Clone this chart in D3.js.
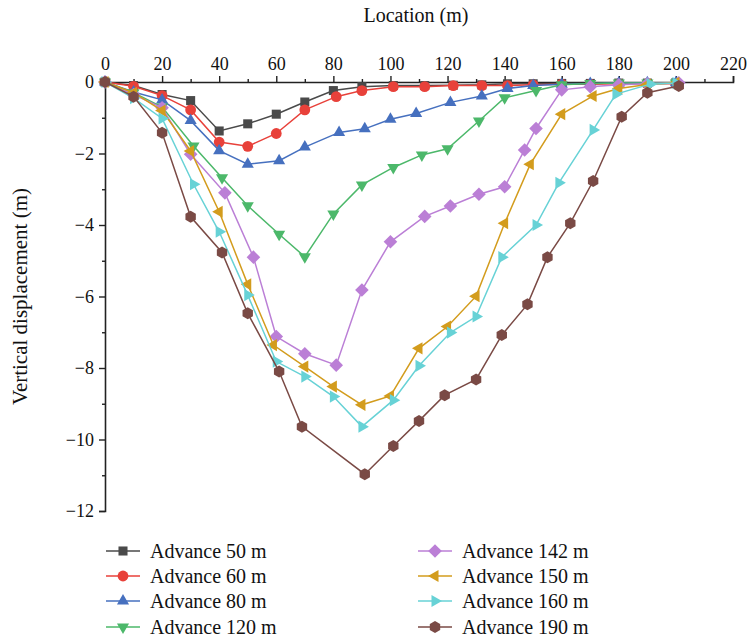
<!DOCTYPE html>
<html><head><meta charset="utf-8">
<script src="https://cdn.jsdelivr.net/npm/d3@7"></script>
<style>
body{margin:0;background:#fff;}
svg{display:block;}
svg text{font-family:"Liberation Serif","Times New Roman",serif !important;}
</style></head>
<body><svg id="c" width="747" height="644"></svg>
<script>
// ---- data ----
const xTicks = [0,20,40,60,80,100,120,140,160,180,200,220];
const yTicks = [0,-2,-4,-6,-8,-10,-12];
const seriesNames = ["Advance 50 m","Advance 60 m","Advance 80 m","Advance 120 m","Advance 142 m","Advance 150 m","Advance 160 m","Advance 190 m"];
const seriesColors = ["#4a4a4a","#e8413a","#4670bf","#4cb86a","#bb7fd6","#d39c1d","#67d2d6","#7a4a45"];
const seriesMarkers = ["square","circle","triUp","triDown","diamond","triLeft","triRight","hexagon"];

const x50 = [0,10,20,30,40,50,60,70,80,90,101,112,122,132,141,150,160,170,180,190,200];
const y50 = [0,-0.1,-0.35,-0.52,-1.37,-1.17,-0.9,-0.56,-0.24,-0.13,-0.1,-0.1,-0.09,-0.08,-0.05,-0.05,-0.04,-0.04,-0.03,-0.03,-0.02];
const x60 = [0,10,20,30,40,50,60,70,81,90,101,112,122,132,141,150,160,170,180,190,200];
const y60 = [0,-0.12,-0.38,-0.78,-1.68,-1.8,-1.44,-0.78,-0.41,-0.24,-0.13,-0.13,-0.1,-0.1,-0.1,-0.08,-0.06,-0.06,-0.05,-0.05,-0.05];
const x80 = [0,10,20,30,40,50,61,70,82,91,100,109,121,132,141,150,160,170,180,190,200];
const y80 = [0,-0.28,-0.5,-1.08,-1.92,-2.3,-2.2,-1.82,-1.41,-1.31,-1.04,-0.88,-0.57,-0.39,-0.18,-0.1,-0.06,-0.04,-0.03,-0.02,-0.02];
const x120 = [0,10,20,31,41,50,61,70,80,90,101,111,120,131,140,151,160,170,180,190,200];
const y120 = [0,-0.3,-0.7,-1.79,-2.68,-3.46,-4.26,-4.89,-3.69,-2.88,-2.39,-2.04,-1.87,-1.09,-0.44,-0.24,-0.08,-0.04,-0.03,-0.03,-0.03];
const x142 = [0,10,20,30,42,52,60,70,81,90,100,112,121,131,140,147,151,160,170,180,190,201];
const y142 = [0,-0.35,-0.72,-2.02,-3.1,-4.9,-7.12,-7.6,-7.92,-5.82,-4.47,-3.76,-3.47,-3.14,-2.93,-1.9,-1.3,-0.22,-0.13,-0.08,-0.05,-0.02];
const x150 = [0,10,20,30,40,50,59,70,80,90,100,110,120,130,140,149,160,171,180,190,200];
const y150 = [0,-0.3,-0.8,-1.93,-3.63,-5.66,-7.36,-7.96,-8.52,-9.03,-8.78,-7.45,-6.84,-5.99,-3.95,-2.3,-0.9,-0.39,-0.18,-0.07,-0.02];
const x160 = [0,10,20,31,40,50,60,70,80,90,101,110,121,130,139,151,159,171,179,191,200];
const y160 = [0,-0.45,-1.02,-2.86,-4.19,-5.96,-7.82,-8.24,-8.8,-9.64,-8.9,-7.94,-7.01,-6.56,-4.9,-4.0,-2.82,-1.34,-0.34,-0.06,-0.03];
const x190 = [0,10,20,30,41,50,61,69,91,101,110,119,130,139,148,155,163,171,181,190,201];
const y190 = [0,-0.41,-1.42,-3.77,-4.77,-6.47,-8.1,-9.64,-10.97,-10.18,-9.48,-8.76,-8.32,-7.08,-6.22,-4.9,-3.95,-2.77,-0.97,-0.3,-0.11];

const seriesX = [x50,x60,x80,x120,x142,x150,x160,x190];
const seriesY = [y50,y60,y80,y120,y142,y150,y160,y190];

// ---- layout ----
const svg = d3.select("#c");
const L = 105, R = 733, T = 82, B = 511;
const xs = d3.scaleLinear().domain([0,220]).range([L,R]);
const ys = d3.scaleLinear().domain([-12,0]).range([B,T]);

// marker symbols
function regPoly(n, r, rot){ return {draw(ctx){ for(let i=0;i<n;i++){const a=rot+i*2*Math.PI/n; const px=r*Math.cos(a), py=r*Math.sin(a); if(i===0) ctx.moveTo(px,py); else ctx.lineTo(px,py);} ctx.closePath(); }}; }
const symbolDefs = {
  square: regPoly(4, 6.4, Math.PI/4),
  circle: {draw(ctx){ ctx.moveTo(5.4,0); ctx.arc(0,0,5.4,0,2*Math.PI); }},
  triUp: regPoly(3, 7, -Math.PI/2),
  triDown: regPoly(3, 7, Math.PI/2),
  diamond: regPoly(4, 6.8, 0),
  triLeft: regPoly(3, 7, Math.PI),
  triRight: regPoly(3, 7, 0),
  hexagon: regPoly(6, 6, Math.PI/6)
};
function symPath(name){ return d3.symbol().type(symbolDefs[name]).size(1)(); }

// axes
const topAxis = d3.axisTop(xs).tickValues(xTicks).tickSize(6).tickPadding(6).tickFormat(d3.format("d"));
const topMinor = d3.axisTop(xs).tickValues(d3.range(10,220,20)).tickSize(3).tickFormat("");
svg.append("g").attr("transform",`translate(0,${T})`).call(topAxis);
svg.append("g").attr("transform",`translate(0,${T})`).call(topMinor).select(".domain").remove();
const leftAxis = d3.axisLeft(ys).tickValues(yTicks).tickSize(6).tickPadding(5).tickFormat(d3.format("d"));
const leftMinor = d3.axisLeft(ys).tickValues(d3.range(-11,0,2)).tickSize(3).tickFormat("");
svg.append("g").attr("transform",`translate(${L},0)`).call(leftAxis);
svg.append("g").attr("transform",`translate(${L},0)`).call(leftMinor).select(".domain").remove();
svg.selectAll(".domain").attr("stroke","#222").attr("stroke-width",1.6);
svg.selectAll(".tick line").attr("stroke","#222").attr("stroke-width",1.4);
svg.selectAll(".tick text").attr("font-size",18).attr("fill","#111");

svg.append("text").attr("x",(xs(0)+xs(220))/2 - 3).attr("y",22).attr("text-anchor","middle")
  .attr("font-size",20).attr("fill","#111").text("Location (m)");
svg.append("text").attr("transform",`translate(27,${(T+B)/2}) rotate(-90)`).attr("text-anchor","middle")
  .attr("font-size",21).attr("fill","#111").text("Vertical displacement (m)");

// series
const line = d3.line().x(d=>xs(d[0])).y(d=>ys(d[1]));
seriesNames.forEach((name,i)=>{
  const pts = seriesX[i].map((xv,j)=>[xv, seriesY[i][j]]);
  const g = svg.append("g");
  g.append("path").attr("d",line(pts)).attr("fill","none").attr("stroke",seriesColors[i]).attr("stroke-width",1.5);
  g.selectAll("path.m").data(pts).enter().append("path").attr("class","m")
    .attr("d",symPath(seriesMarkers[i]))
    .attr("transform",d=>`translate(${xs(d[0])},${ys(d[1])})`)
    .attr("fill",seriesColors[i]);
});

// legend
const legCols = [{lx:106, tx:150},{lx:418, tx:462}];
const legRows = [551,576,601,627];
seriesNames.forEach((name,i)=>{
  const c = legCols[Math.floor(i/4)], yy = legRows[i%4];
  const g = svg.append("g");
  g.append("line").attr("x1",c.lx).attr("x2",c.lx+34).attr("y1",yy).attr("y2",yy).attr("stroke",seriesColors[i]).attr("stroke-width",1.5);
  g.append("path").attr("d",symPath(seriesMarkers[i])).attr("transform",`translate(${c.lx+17},${yy})`).attr("fill",seriesColors[i]);
  g.append("text").attr("x",c.tx).attr("y",yy+6.5).attr("font-size",20).attr("fill","#111").text(name);
});
</script></body></html>
